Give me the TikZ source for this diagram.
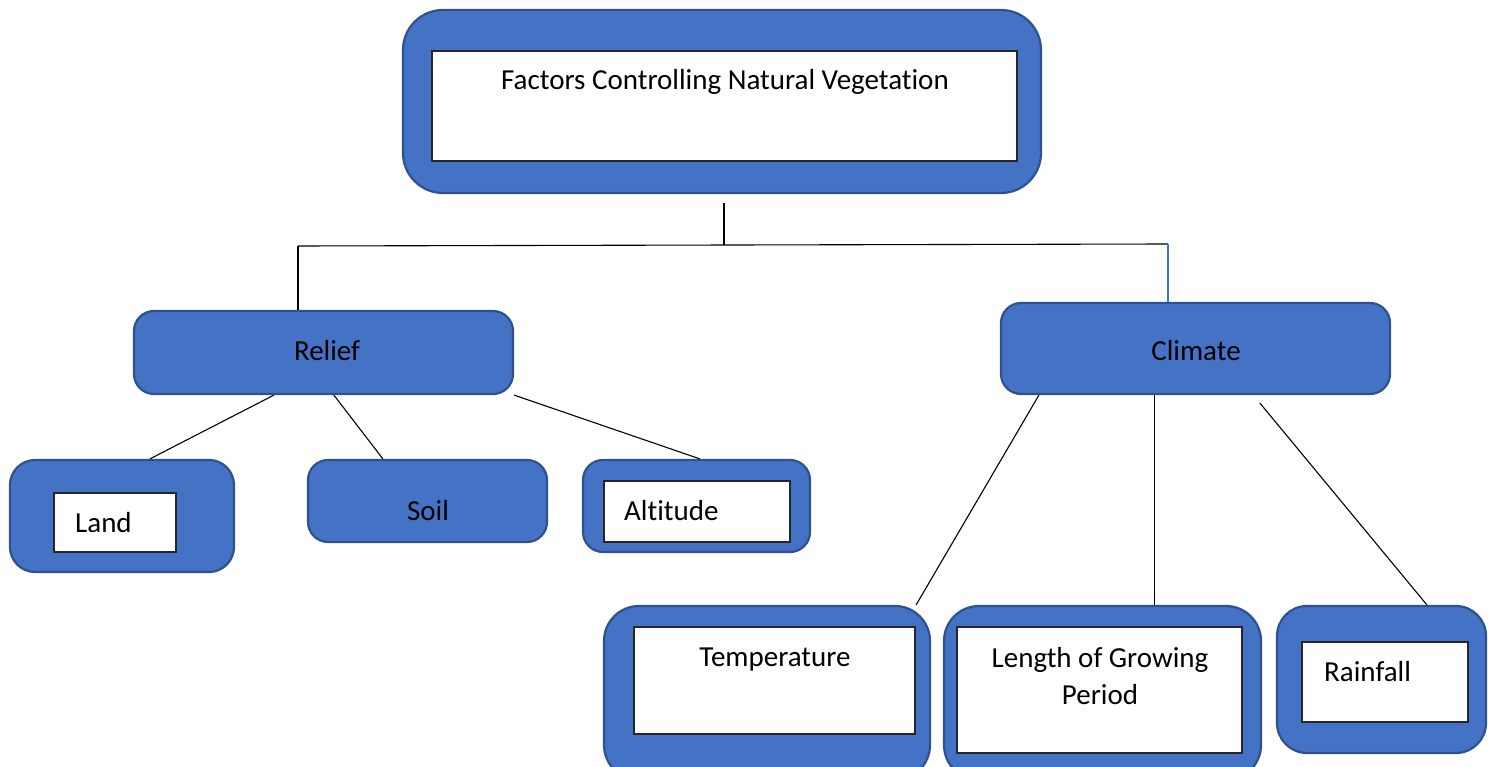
\documentclass[tikz,border=0pt]{standalone}
\usepackage{fontspec}
\setmainfont[Ligatures=NoCommon]{Carlito}
\usetikzlibrary{calc}
\definecolor{boxblue}{HTML}{4472C4}
\definecolor{boxedge}{HTML}{2F528F}

\begin{document}
\begin{tikzpicture}[x=1pt, y=-1pt,
    bluebox/.style={draw=boxedge, fill=boxblue, line width=2.2pt, inner sep=0pt},
    whitebox/.style={draw=black!85, fill=white, line width=1.8pt, inner sep=0pt},
    caption/.style={font=\fontsize{29}{37}\selectfont, inner sep=0pt, align=center},
    link/.style={black, line width=1.1pt}]
    \clip (0,0) rectangle (1488,767);
    \node[bluebox, rounded corners=40pt, minimum width=638pt, minimum height=183pt] (top) at (722,101.5) {};
    \node[whitebox, minimum width=585pt, minimum height=110pt] (topin) at (724.5,106) {};
    \node[caption, anchor=base] (toptext) at (725,90) {Factors Controlling Natural Vegetation};

    \node[bluebox, rounded corners=20pt, minimum width=379pt, minimum height=83pt] (relief) at (323.5,352.5) {};
    \node[caption, anchor=base] (relieftext) at (327,360) {Relief};
    \node[bluebox, rounded corners=20pt, minimum width=389pt, minimum height=91pt] (climate) at (1195.5,348.5) {};
    \node[caption, anchor=base] (climatetext) at (1196,360) {Climate};

    \node[bluebox, rounded corners=25pt, minimum width=224pt, minimum height=112pt] (land) at (122,516) {};
    \node[whitebox, minimum width=122pt, minimum height=59pt] (landin) at (115,522.5) {};
    \node[caption, anchor=base west] (landtext) at (75,532) {Land};

    \node[bluebox, rounded corners=20pt, minimum width=239pt, minimum height=82pt] (soil) at (427.5,501) {};
    \node[caption, anchor=base] (soiltext) at (428,520) {Soil};

    \node[bluebox, rounded corners=20pt, minimum width=227pt, minimum height=92pt] (altitude) at (696.5,506) {};
    \node[whitebox, minimum width=186pt, minimum height=61pt] (altin) at (697,511.5) {};
    \node[caption, anchor=base west] (alttext) at (624,520) {Altitude};

    \node[bluebox, rounded corners=35pt, minimum width=326pt, minimum height=174pt] (temperature) at (767,693) {};
    \node[whitebox, minimum width=281pt, minimum height=107pt] (tempin) at (774.5,680.5) {};
    \node[caption, anchor=base] (temptext) at (775,666) {Temperature};

    \node[bluebox, rounded corners=35pt, minimum width=317pt, minimum height=174pt] (length) at (1102.5,693) {};
    \node[whitebox, minimum width=285pt, minimum height=126pt] (lengthin) at (1099.5,690) {};
    \node[caption] (lengthtext) at (1100,676) {Length of Growing\\Period};

    \node[bluebox, rounded corners=30pt, minimum width=209pt, minimum height=147pt] (rainfall) at (1381.5,679.5) {};
    \node[whitebox, minimum width=166pt, minimum height=80pt] (rainin) at (1385,682) {};
    \node[caption, anchor=base west] (raintext) at (1324,681) {Rainfall};

    \coordinate (stem) at (724,203);
    \coordinate (bustop) at (724,245);
    \coordinate (busl) at (298,246);
    \coordinate (busr) at (1168,244);
    \draw[link] (stem) -- (bustop);
    \draw[link] (busl) -- (busr);
    \draw[link] (busl) -- (busl |- relief.north);
    \draw[boxblue, line width=1.1pt] (busr) -- (busr |- climate.north);

    \draw[link] ($(relief.south west)+(141,0)$) -- ($(land.north west)+(141,0)$);
    \draw[link] ($(relief.south west)+(201,0)$) -- ($(soil.north west)+(76,0)$);
    \draw[link] (relief.south east) -- ($(altitude.north west)+(118,0)$);

    \draw[link] ($(climate.south west)+(39,0)$) -- ($(temperature.north east)+(-15,0)$);
    \draw[link] ($(climate.south west)+(155,0)$) -- ($(length.north west)+(212,0)$);
    \draw[link] ($(climate.south west)+(260,8)$) -- ($(rainfall.north west)+(151,0)$);
\end{tikzpicture}
\end{document}
